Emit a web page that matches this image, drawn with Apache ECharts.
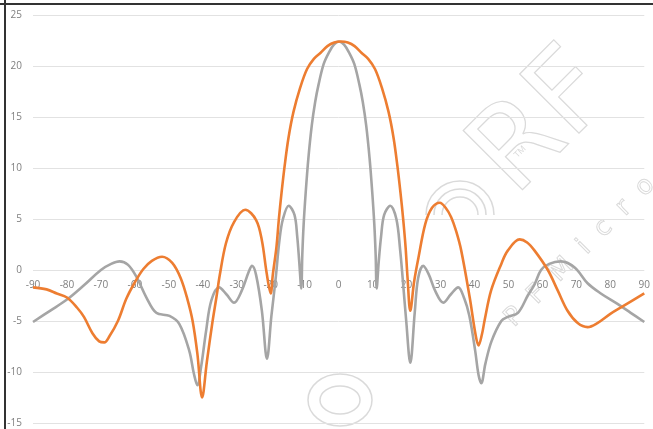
<!DOCTYPE html>
<html>
<head>
<meta charset="utf-8">
<script src="https://cdn.jsdelivr.net/npm/echarts@6/dist/echarts.min.js"></script>
<style>
html,body{margin:0;padding:0;background:#fff;}
#chart{width:653px;height:429px;}
</style>
</head>
<body>
<div id="chart"></div>
<script>
// Angle (deg) and gain (dB) samples
const grayAngles = [-90,-85,-80,-75,-70,-67,-64.5,-62,-59.5,-56.6,-53.7,-49.8,-46.9,-44,-42.6,-41.6,-40.5,-39,-37.5,-35.2,-33,-30.8,-28.5,-26.5,-25.5,-24.3,-22.6,-21.1,-19.8,-18.6,-17.4,-16.4,-14.7,-13.0,-12.2,-11.6,-11.0,-10.7,-10.3,-9.7,-8.9,-7.9,-6.9,-5.9,-4.4,-2.9,-1.4,0.1,1.6,3.1,4.6,6.1,7.1,8.1,9.1,9.9,10.5,10.9,11.2,11.8,12.5,13.4,15.2,17.0,18.1,18.9,19.9,21.1,22.4,23.4,24.9,26.5,28.5,30.8,33,35.2,37,38.5,40.2,41.2,42,43.2,45,47.9,49.8,52.8,55.7,57.7,59.6,62,65.4,69.5,73.3,77.2,82,86,90];
const grayGain   = [-5.1,-4.0,-2.9,-1.5,0.0,0.6,0.85,0.5,-0.7,-2.7,-4.2,-4.5,-5.3,-7.9,-10.2,-11.3,-9.5,-5.9,-3.0,-1.7,-2.4,-3.2,-2.0,-0.2,0.4,-0.5,-4.0,-8.7,-4.5,-1.0,3.0,5.0,6.3,5.4,3.3,0.8,-1.8,1.5,4.5,7.6,11.0,14.2,16.5,18.2,20.2,21.3,22.1,22.4,22.1,21.3,20.2,18.2,16.5,14.2,11.0,7.6,4.5,1.5,-1.8,0.8,3.3,5.4,6.3,5.0,2.0,-1.0,-5.0,-9.1,-4.2,-0.8,0.4,-0.4,-2.1,-3.2,-2.4,-1.7,-2.8,-4.5,-7.9,-10.3,-11.1,-9.2,-7.0,-5.0,-4.6,-4.2,-2.5,-1.4,0.0,0.6,0.85,0.25,-1.3,-2.3,-3.3,-4.2,-5.1];
const orangeAngles = [-90,-86,-83,-80,-77,-75,-72.5,-70.5,-69,-67.5,-65,-62.5,-60,-57.5,-55,-52,-49,-46.5,-44.5,-43,-41.6,-40.2,-38.8,-37.2,-36,-35,-33.2,-30.8,-27.5,-24.3,-22.6,-21.2,-20,-19.4,-18.3,-17.6,-16.8,-15.9,-14.8,-13.3,-11.3,-9.3,-7.3,-5.3,-3.3,-1.3,0.7,2.7,4.7,6.7,8.7,10.7,12.7,14.7,16.2,17.3,18.2,19.0,19.7,20.3,21.1,22.2,23.5,25.5,27.5,29.8,31.5,33.1,34.6,36.1,38.6,40.3,41.2,42.2,43,44.9,47.9,49.8,53.3,55.5,57.7,61.6,64.5,67.4,70.4,73.3,76.2,80,84,90];
const orangeGain   = [-1.7,-1.9,-2.3,-2.7,-3.7,-4.6,-6.2,-7.0,-7.1,-6.5,-5.0,-2.8,-1.2,0.1,0.9,1.3,0.7,-0.8,-2.9,-5.0,-8.2,-12.5,-9.0,-5.2,-2.7,-0.5,2.6,4.7,5.9,4.9,2.9,-0.3,-2.3,-0.5,2.3,5.0,7.6,10.2,12.9,15.5,17.9,19.7,20.7,21.3,21.95,22.3,22.4,22.3,21.95,21.3,20.7,19.7,17.9,15.5,12.9,10.2,7.6,5.0,2.3,-0.8,-4.0,-1.2,1.2,4.5,6.1,6.6,6.1,5.2,3.8,1.9,-2.7,-6.3,-7.4,-6.3,-4.9,-2.0,0.6,1.9,3.0,2.7,1.9,0.0,-2.0,-4.0,-5.2,-5.6,-5.2,-4.3,-3.5,-2.3];
const xTicks = {min: -90, max: 90, step: 10};
const yTicks = {min: -15, max: 25, step: 5};

function pairs(xs, ys){ return xs.map((x, i) => [x, ys[i]]); }

const chart = echarts.init(document.getElementById('chart'), null, {renderer: 'canvas'});
const wm = '#dadada';
chart.setOption({
  animation: false,
  backgroundColor: '#ffffff',
  grid: {left: 33, right: 6, top: 15, bottom: 6, containLabel: false},
  xAxis: {
    type: 'value', min: xTicks.min, max: xTicks.max, interval: xTicks.step,
    axisLine: {show: false, onZero: false},
    axisTick: {show: false},
    splitLine: {show: false},
    axisLabel: {color: '#7f7f7f', fontSize: 10, fontFamily: 'Open Sans', margin: 6}
  },
  yAxis: {
    type: 'value', min: yTicks.min, max: yTicks.max, interval: yTicks.step,
    axisLine: {show: false}, axisTick: {show: false},
    splitLine: {lineStyle: {color: '#e2e2e2', width: 1}},
    axisLabel: {color: '#7f7f7f', fontSize: 10, fontFamily: 'Open Sans', margin: 11}
  },
  series: [
    {name: 'Series2', type: 'line', data: pairs(grayAngles, grayGain), smooth: 0.35,
     showSymbol: false, lineStyle: {color: '#a5a5a5', width: 2.6}, z: 2},
    {name: 'Series1', type: 'line', data: pairs(orangeAngles, orangeGain), smooth: 0.35,
     showSymbol: false, lineStyle: {color: '#ed7d31', width: 2.6}, z: 3}
  ],
  graphic: [
    {type: 'line', shape: {x1: 5, y1: 0, x2: 5, y2: 429}, style: {stroke: '#333', lineWidth: 2}, z: 10},
    {type: 'line', shape: {x1: 0, y1: 4, x2: 653, y2: 4}, style: {stroke: '#333', lineWidth: 2}, z: 10},
    {type: 'text', x: 545, y: 125, rotation: Math.PI/4, z: -1,
     style: {text: 'RF', fontSize: 115, fontFamily: 'DejaVu Sans', fill: 'transparent', stroke: wm, lineWidth: 1.2, align: 'center', verticalAlign: 'middle'}},
    {type: 'text', x: 520, y: 152, rotation: Math.PI/4, z: -1,
     style: {text: 'TM', fontSize: 9, fill: wm, align: 'center', verticalAlign: 'middle'}},
    {type: 'text', x: 580, y: 252, rotation: Math.PI/4, z: -1,
     style: {text: 'P  F  M  i  c  r  o', fontSize: 26, fontFamily: 'DejaVu Sans', fill: 'transparent', stroke: wm, lineWidth: 1, align: 'center', verticalAlign: 'middle'}},
    {type: 'ellipse', shape: {cx: 340, cy: 400, rx: 32, ry: 26}, style: {fill: 'transparent', stroke: wm, lineWidth: 1.5}, z: -1},
    {type: 'ellipse', shape: {cx: 340, cy: 400, rx: 20, ry: 14}, style: {fill: 'transparent', stroke: wm, lineWidth: 1.5}, z: -1},
    {type: 'arc', shape: {cx: 460, cy: 215, r: 34, startAngle: Math.PI, endAngle: 2*Math.PI}, style: {fill: 'none', stroke: wm, lineWidth: 1.5}, z: -1},
    {type: 'arc', shape: {cx: 460, cy: 215, r: 26, startAngle: Math.PI, endAngle: 2*Math.PI}, style: {fill: 'none', stroke: wm, lineWidth: 1.5}, z: -1},
    {type: 'arc', shape: {cx: 460, cy: 215, r: 18, startAngle: Math.PI, endAngle: 2*Math.PI}, style: {fill: 'none', stroke: wm, lineWidth: 1.5}, z: -1}
  ]
});
// Place the angle labels on the 0 line, as in the reference
const zeroPx = chart.convertToPixel({yAxisIndex: 0}, 0);
const minPx = chart.convertToPixel({yAxisIndex: 0}, yTicks.min);
chart.setOption({xAxis: {offset: zeroPx - minPx}});
</script>
</body>
</html>
